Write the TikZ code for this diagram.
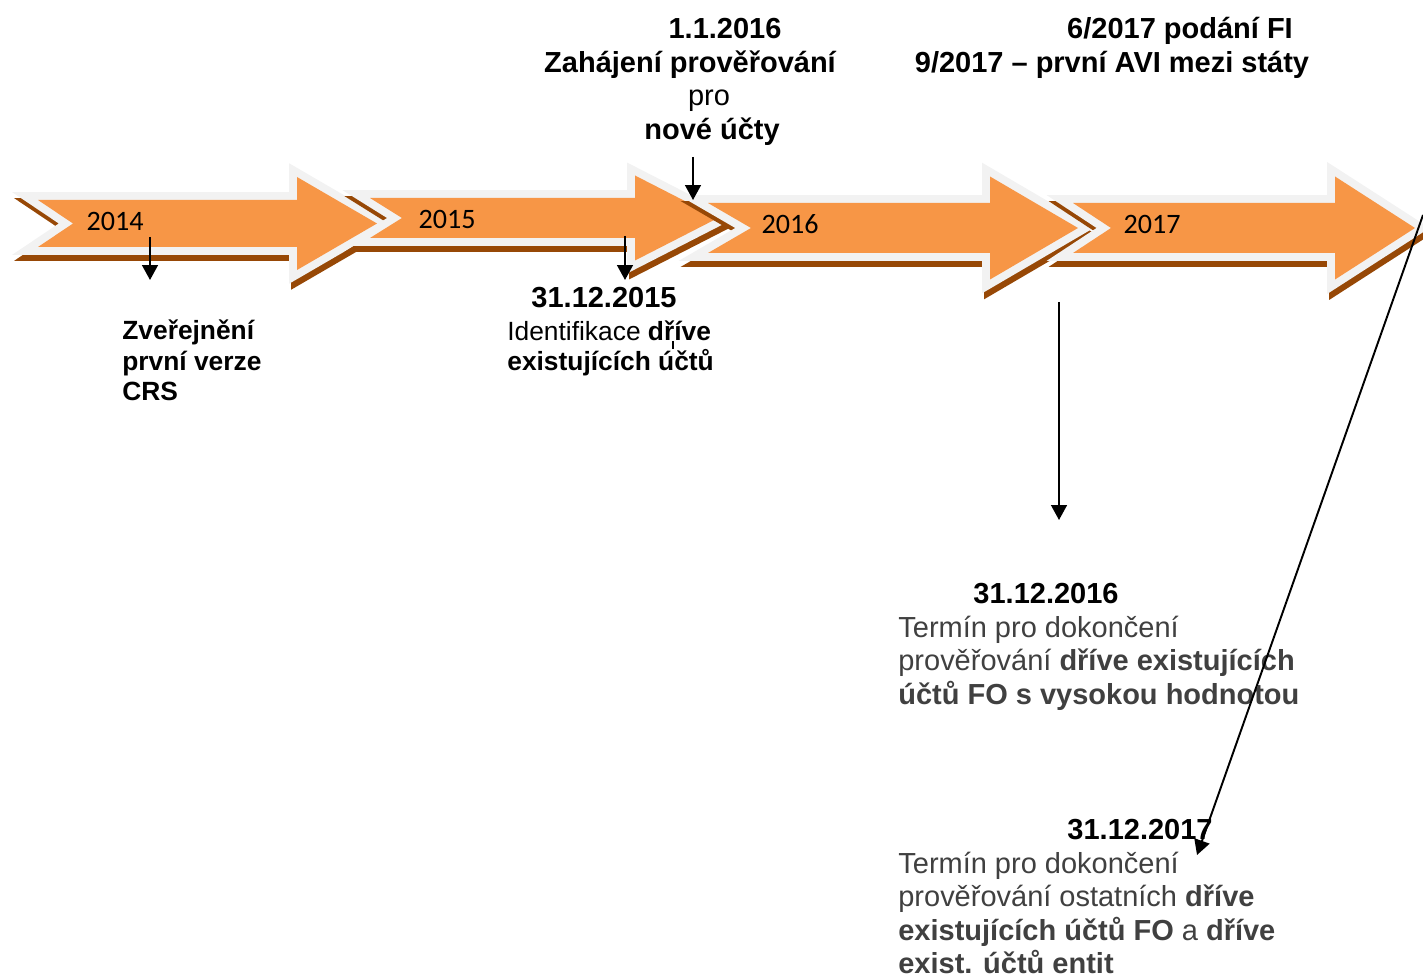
\documentclass[tikz,border=0pt]{standalone}
\usepackage{fontspec}
\setmainfont{Liberation Sans}
\newfontfamily\yearfont{Carlito}
\usetikzlibrary{arrows.meta}
\definecolor{arrowfill}{HTML}{F79646}
\definecolor{arrowrim}{HTML}{F2F2F2}
\definecolor{arrowdrop}{HTML}{974806}
\definecolor{notegray}{HTML}{404040}
\begin{document}
\begin{tikzpicture}[x=0.02cm, y=-0.02cm,
        rim/.style={draw=arrowrim, line width=9pt, line join=miter},
        drop/.style={draw=arrowdrop, fill=arrowdrop, line width=9pt, shift={(2,6)}},
        year/.style={font=\yearfont\fontsize{16}{19}\selectfont, anchor=base, inner sep=0pt},
        head/.style={font=\fontsize{16.5}{19}\selectfont\bfseries, anchor=base, inner sep=0pt},
        smalltext/.style={font=\fontsize{15}{17.6}\selectfont, align=left, anchor=base west, inner sep=0pt},
        note/.style={font=\fontsize{16.5}{19}\selectfont, text=notegray, align=left, anchor=base west, inner sep=0pt},
        ptr/.style={-{Triangle[length=8.5pt, width=9pt]}, line width=1.1pt}]
    \useasboundingbox (0,0) rectangle (1423,979);
    % the four year arrows
    \foreach \tl/\nx/\sx/\tx/\cy/\bh/\hh in {38/73/297/377/223.5/23.5/46.5,
            370/402/635/718/218/20/42.5,
            708/751/990/1078/228/25/51.5,
            1073/1111/1335/1415/228/25/51.5}{
        \def\chev{(\tl,\cy-\bh) -- (\sx,\cy-\bh) -- (\sx,\cy-\hh) -- (\tx,\cy)
            -- (\sx,\cy+\hh) -- (\sx,\cy+\bh) -- (\tl,\cy+\bh) -- (\nx,\cy) -- cycle}
        \path[drop] \chev;
        \path[rim] \chev;
        \fill[arrowfill] \chev;
    }
    \node[year] (y14) at (115,231) {2014};
    \node[year] (y15) at (447,229) {2015};
    \node[year] (y16) at (790,234) {2016};
    \node[year] (y17) at (1152,234) {2017};
    % texts above
    \node[head] (d16) at (725,38.5) {1.1.2016};
    \node[head] (zah) at (690,72.5) {Zahájení prověřování};
    \node[head] (pro) at (709,106) {\mdseries pro};
    \node[head] (nove) at (712,139.5) {nové účty};
    \node[head] (fi) at (1180,38.5) {6/2017 podání FI};
    \node[head] (avi) at (1112,72.5) {9/2017 – první AVI mezi státy};
    % texts below (base = last line)
    \node[smalltext, font=\fontsize{15}{17.6}\selectfont\bfseries] (crs) at (122,401) {Zveřejnění\\první verze\\CRS};
    \node[head] (d15) at (604,308) {31.12.2015};
    \node[smalltext] (ident) at (507,371) {Identifikace \textbf{dříve}\\\textbf{existujících účtů}};
    \node[head] (d16b) at (1046,603.5) {31.12.2016};
    \node[note] (fo) at (898,704) {Termín pro dokončení\\prověřování \textbf{dříve existujících}\\\textbf{účtů FO s vysokou hodnotou}};
    \node[head] (d17) at (1140,839.5) {31.12.2017};
    \node[note] (ent) at (898,973.5) {Termín pro dokončení\\prověřování ostatních \textbf{dříve}\\\textbf{existujících účtů FO} a \textbf{dříve}\\\textbf{exist. účtů entit}};
    % pointers
    \coordinate (p14) at (150,237);
    \coordinate (q14) at (150,280);
    \coordinate (p15) at (625,236);
    \coordinate (q15) at (625,280);
    \coordinate (p16) at (693,157);
    \coordinate (q16) at (693,200);
    \coordinate (p16b) at (1059,302);
    \coordinate (q16b) at (1059,520);
    \coordinate (p17) at (1423,215);
    \coordinate (q17) at (1197,855);
    \draw[ptr] (p14) -- (q14);
    \draw[ptr] (p15) -- (q15);
    \draw[ptr] (p16) -- (q16);
    \draw[ptr] (p16b) -- (q16b);
    \draw[ptr] (p17) -- (q17);
    \draw[line width=0.6pt] (673,341) -- (673,349);
\end{tikzpicture}
\end{document}
